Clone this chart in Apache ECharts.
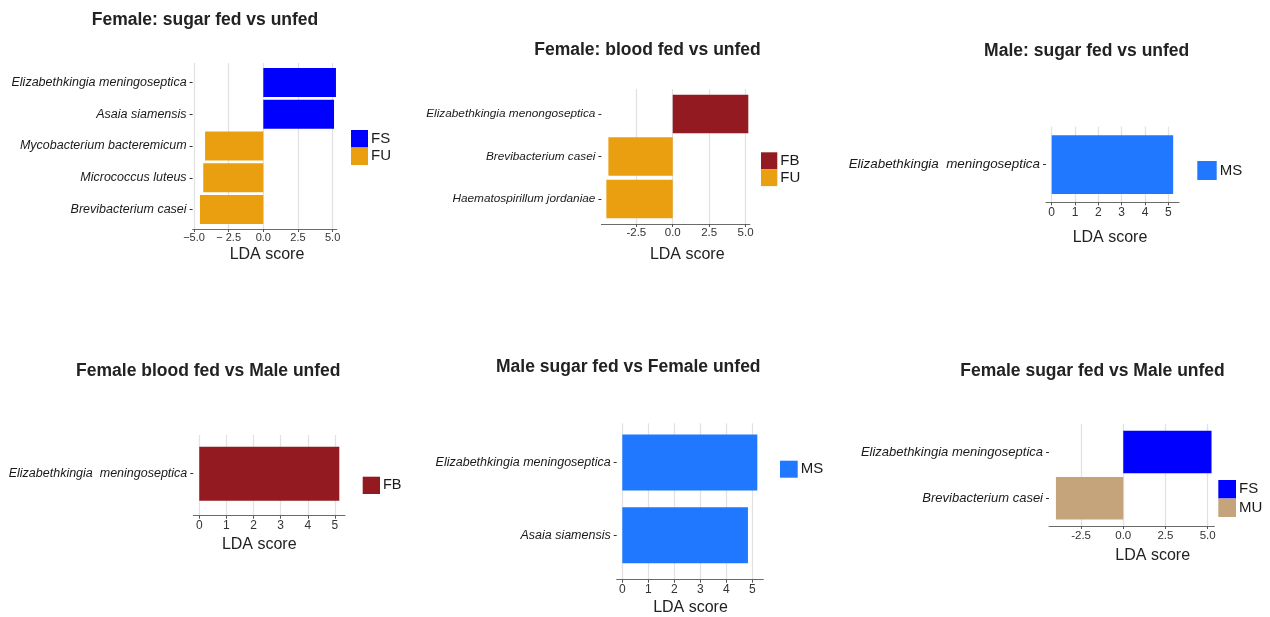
<!DOCTYPE html>
<html>
<head>
<meta charset="utf-8">
<title>LDA scores</title>
<script src="https://cdn.jsdelivr.net/npm/echarts@6/dist/echarts.min.js"></script>
<style>
  html, body { margin: 0; padding: 0; background: #fff; }
  #chart { width: 1270px; height: 617px; }
</style>
</head>
<body>
<div id="chart"></div>
<script>
// ---- data: one block per comparison ----
const p1Title = 'Female: sugar fed vs unfed';
const p1Species = ['Elizabethkingia meningoseptica', 'Asaia siamensis', 'Mycobacterium bacteremicum', 'Micrococcus luteus', 'Brevibacterium casei'];
const p1Scores = [5.24, 5.1, -4.2, -4.33, -4.57];
const p1Groups = ['FS', 'FS', 'FU', 'FU', 'FU'];
const p1Legend = ['FS', 'FU'];
const p1TickValues = [-5, -2.5, 0, 2.5, 5];
const p1TickLabels = ['\u22125.0', '\u2212 2.5', '0.0', '2.5', '5.0'];

const p2Title = 'Female: blood fed vs unfed';
const p2Species = ['Elizabethkingia menongoseptica', 'Brevibacterium casei', 'Haematospirillum jordaniae'];
const p2Scores = [5.19, -4.42, -4.56];
const p2Groups = ['FB', 'FU', 'FU'];
const p2Legend = ['FB', 'FU'];
const p2TickValues = [-2.5, 0, 2.5, 5];
const p2TickLabels = ['-2.5', '0.0', '2.5', '5.0'];

const p3Title = 'Male: sugar fed vs unfed';
const p3Species = ['Elizabethkingia  meningoseptica'];
const p3Scores = [5.21];
const p3Groups = ['MS'];
const p3Legend = ['MS'];
const p3TickValues = [0, 1, 2, 3, 4, 5];
const p3TickLabels = ['0', '1', '2', '3', '4', '5'];

const p4Title = 'Female blood fed vs Male unfed';
const p4Species = ['Elizabethkingia  meningoseptica'];
const p4Scores = [5.16];
const p4Groups = ['FB'];
const p4Legend = ['FB'];
const p4TickValues = [0, 1, 2, 3, 4, 5];
const p4TickLabels = ['0', '1', '2', '3', '4', '5'];

const p5Title = 'Male sugar fed vs Female unfed';
const p5Species = ['Elizabethkingia meningoseptica', 'Asaia siamensis'];
const p5Scores = [5.19, 4.83];
const p5Groups = ['MS', 'MS'];
const p5Legend = ['MS'];
const p5TickValues = [0, 1, 2, 3, 4, 5];
const p5TickLabels = ['0', '1', '2', '3', '4', '5'];

const p6Title = 'Female sugar fed vs Male unfed';
const p6Species = ['Elizabethkingia meningoseptica', 'Brevibacterium casei'];
const p6Scores = [5.23, -3.99];
const p6Groups = ['FS', 'MU'];
const p6Legend = ['FS', 'MU'];
const p6TickValues = [-2.5, 0, 2.5, 5];
const p6TickLabels = ['-2.5', '0.0', '2.5', '5.0'];

const axisTitle = 'LDA score';

// ---- styling ----
const FONT = "'Liberation Sans', Arial, Helvetica, sans-serif";
const groupColors = { FS: '#0000FF', FU: '#E99F10', FB: '#931A21', MS: '#1F78FF', MU: '#C5A47B' };

// Panel geometry (pixels): plot frame, x range, bar centres, legend, titles
const layouts = [
  { left: 192.6, top: 63, width: 144.2, height: 166, min: -5.1, max: 5.3,
    cFirst: 82.5, cLast: 209.5, bar: 29, labelSize: 12.5, tickSize: 11, tickMargin: 3,
    nameGap: 25.5, nameShift: 2.3,
    legend: { left: 351, top: 130, w: 17, h: 17.5, size: 15 }, titleX: 205, titleY: 19.7 },
  { left: 601.4, top: 89, width: 148.5, height: 135, min: -4.9, max: 5.3,
    cFirst: 114, cLast: 199, bar: 38.5, labelSize: 11.8, tickSize: 11.5, tickMargin: 3,
    nameGap: 31, nameShift: 11.6,
    legend: { left: 761, top: 152.3, w: 16.3, h: 16.9, size: 15 }, titleX: 647.5, titleY: 50 },
  { left: 1046, top: 126.7, width: 133, height: 75.6, min: -0.245, max: 5.46,
    cFirst: 164.7, cLast: 164.7, bar: 58.7, labelSize: 13.4, tickSize: 12, tickMargin: 4,
    nameGap: 35.2, nameShift: -2.5,
    legend: { left: 1197.3, top: 161, w: 19.4, h: 19, size: 15 }, titleX: 1086.7, titleY: 50.8 },
  { left: 193.3, top: 435, width: 151.7, height: 80.7, min: -0.22, max: 5.37,
    cFirst: 473.7, cLast: 473.7, bar: 54, labelSize: 12.5, tickSize: 12, tickMargin: 4,
    nameGap: 28.8, nameShift: -9.9,
    legend: { left: 362.7, top: 476.7, w: 17.3, h: 17.3, size: 14.5 }, titleX: 208.3, titleY: 370.8 },
  { left: 616.7, top: 423.3, width: 146.6, height: 157.4, min: -0.215, max: 5.42,
    cFirst: 462.5, cLast: 535.3, bar: 56, labelSize: 12.5, tickSize: 12, tickMargin: 4,
    nameGap: 28.3, nameShift: 0.5,
    legend: { left: 780, top: 460.7, w: 17.7, h: 17, size: 15 }, titleX: 628.3, titleY: 366.7 },
  { left: 1049, top: 424, width: 165.4, height: 102, min: -4.4, max: 5.4,
    cFirst: 452, cLast: 498.3, bar: 42.5, labelSize: 13, tickSize: 11.5, tickMargin: 3.5,
    nameGap: 29.8, nameShift: 21,
    legend: { left: 1218.3, top: 480, w: 17.7, h: 18.5, size: 15 }, titleX: 1092.5, titleY: 370.8 }
];

const panels = [
  { title: p1Title, species: p1Species, scores: p1Scores, groups: p1Groups, legend: p1Legend, ticks: p1TickValues, tickLabels: p1TickLabels },
  { title: p2Title, species: p2Species, scores: p2Scores, groups: p2Groups, legend: p2Legend, ticks: p2TickValues, tickLabels: p2TickLabels },
  { title: p3Title, species: p3Species, scores: p3Scores, groups: p3Groups, legend: p3Legend, ticks: p3TickValues, tickLabels: p3TickLabels },
  { title: p4Title, species: p4Species, scores: p4Scores, groups: p4Groups, legend: p4Legend, ticks: p4TickValues, tickLabels: p4TickLabels },
  { title: p5Title, species: p5Species, scores: p5Scores, groups: p5Groups, legend: p5Legend, ticks: p5TickValues, tickLabels: p5TickLabels },
  { title: p6Title, species: p6Species, scores: p6Scores, groups: p6Groups, legend: p6Legend, ticks: p6TickValues, tickLabels: p6TickLabels }
];

const grid = [], xAxis = [], yAxis = [], series = [], legend = [], graphic = [];

panels.forEach((p, i) => {
  const L = layouts[i];

  // frame grid: full plot area carrying grid lines, x axis and its title
  const fi = grid.length;
  grid.push({ left: L.left, top: L.top, width: L.width, height: L.height });
  const shift = L.nameShift;
  xAxis.push({
    gridIndex: fi, type: 'value', min: L.min, max: L.max,
    name: axisTitle, nameLocation: 'middle', nameGap: L.nameGap,
    nameTextStyle: {
      fontFamily: FONT, fontSize: 16, color: '#222', verticalAlign: 'middle',
      padding: shift >= 0 ? [0, 0, 0, 2 * shift] : [0, -2 * shift, 0, 0]
    },
    axisLine: { show: true, onZero: false, lineStyle: { color: '#6a6a6a', width: 1 } },
    axisTick: { show: true, customValues: p.ticks, length: 3, lineStyle: { color: '#555', width: 1 } },
    axisLabel: {
      show: true, customValues: p.ticks, margin: L.tickMargin,
      fontFamily: FONT, fontSize: L.tickSize, color: '#333',
      formatter: v => p.tickLabels[p.ticks.indexOf(v)]
    },
    splitLine: { show: true, lineStyle: { color: '#E2E2E2', width: 1.3 } }
  });
  yAxis.push({ gridIndex: fi, type: 'value', show: false, min: 0, max: 1 });

  // bar grid: one band per species, inset like a discrete ggplot scale
  const n = p.species.length;
  let top, height;
  if (n > 1) {
    const s = (L.cLast - L.cFirst) / (n - 1);
    top = L.cFirst - s / 2;
    height = n * s;
  } else {
    top = L.cFirst - L.bar / 2 - 3;
    height = L.bar + 6;
  }
  const bi = grid.length;
  grid.push({ left: L.left, top: top, width: L.width, height: height });
  xAxis.push({ gridIndex: bi, type: 'value', min: L.min, max: L.max, show: false });
  yAxis.push({
    gridIndex: bi, type: 'category', data: p.species, inverse: true,
    axisLine: { show: false, onZero: false },
    axisTick: { show: true, alignWithLabel: true, length: 3, lineStyle: { color: '#333', width: 1 } },
    axisLabel: { fontFamily: FONT, fontStyle: 'italic', fontSize: L.labelSize, color: '#1a1a1a', margin: 6 },
    splitLine: { show: false }
  });

  p.legend.forEach(g => {
    series.push({
      type: 'bar', name: g, xAxisIndex: bi, yAxisIndex: bi,
      barWidth: L.bar, barGap: '-100%',
      data: p.scores.map((v, k) => (p.groups[k] === g ? v : '-')),
      itemStyle: { color: groupColors[g] }
    });
  });

  legend.push({
    orient: 'vertical', left: L.legend.left, top: L.legend.top, padding: 0,
    itemWidth: L.legend.w, itemHeight: L.legend.h, itemGap: 0, icon: 'rect',
    data: p.legend, selectedMode: false,
    textStyle: { fontFamily: FONT, fontSize: L.legend.size, color: '#1a1a1a', lineHeight: L.legend.h, padding: [0, 0, 0, -2] }
  });

  graphic.push({
    type: 'text', x: L.titleX, y: L.titleY,
    style: { text: p.title, fontFamily: FONT, fontSize: 17.5, fontWeight: 'bold', fill: '#222', align: 'center', verticalAlign: 'middle' }
  });
});

const chart = echarts.init(document.getElementById('chart'), null, { renderer: 'canvas' });
chart.setOption({
  backgroundColor: '#fff',
  animation: false,
  grid, xAxis, yAxis, series, legend, graphic
});
</script>
</body>
</html>
